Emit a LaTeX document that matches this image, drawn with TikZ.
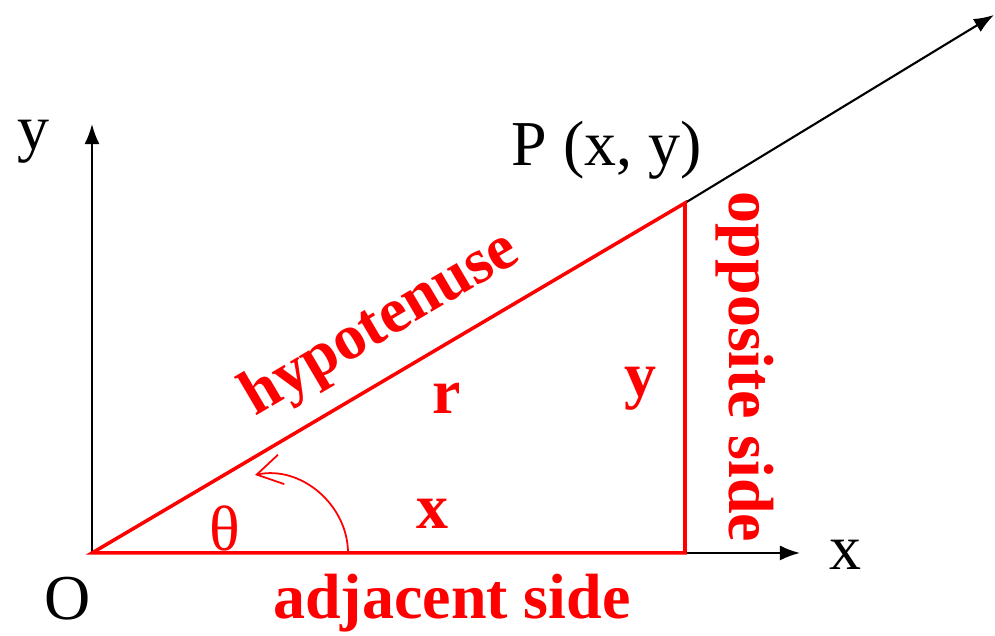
\documentclass[tikz,border=0pt]{standalone}
\usepackage{fontspec}
\setmainfont{Liberation Serif}
\usepackage{tikz}
\usetikzlibrary{arrows.meta}

\begin{document}
\begin{tikzpicture}[>=Latex,font=\fontsize{18.2}{20}\selectfont,
  side/.style={red,line width=1pt},
  lab/.style={red,font=\fontsize{18.2}{20}\selectfont\bfseries}]
  \useasboundingbox (0,0) rectangle (9.95,6.36);
  % axes and ray
  \coordinate (O) at (0.92,0.83);
  \coordinate (P) at (6.85,4.33);
  \coordinate (F) at (6.85,0.83);
  \coordinate (ytip) at (0.92,5.12);
  \coordinate (xtip) at (8.00,0.83);
  \coordinate (rtip) at (9.94,6.21);
  \draw[->,line width=0.6pt] (O) -- (ytip);
  \draw[->,line width=0.6pt] (O) -- (xtip);
  \draw[->,line width=0.6pt] (P) -- (rtip);
  \node (ylab) at (0.33,4.94) {y};
  \node (xlab) at (8.45,0.81) {x};
  \node (olab) at (0.68,0.37) {O};
  \node (plab) at (6.07,4.86) {P (x, y)};
  % triangle
  \draw[side] (O) -- (P) -- (F) -- cycle;
  \node[lab,rotate=30.5] (hyp) at (3.81,3.11) {hypotenuse};
  \node[lab,rotate=-90] (opp) at (7.45,2.69) {opposite side};
  \node[lab] (adj) at (4.52,0.33) {adjacent side};
  \node[lab] (r) at (4.47,2.38) {r};
  \node[lab] (yv) at (6.40,2.47) {y};
  \node[lab] (xv) at (4.32,1.22) {x};
  \node[red] (th) at (2.25,1.08) {θ};
  % angle arrow
  \coordinate (a0) at (3.48,0.83);
  \coordinate (a1) at (2.55,1.61);
  \draw[red,line width=0.5pt,-{Straight Barb[length=2.5mm,width=3mm]}] (a0) to[out=90,in=12] (a1);
\end{tikzpicture}
\end{document}
